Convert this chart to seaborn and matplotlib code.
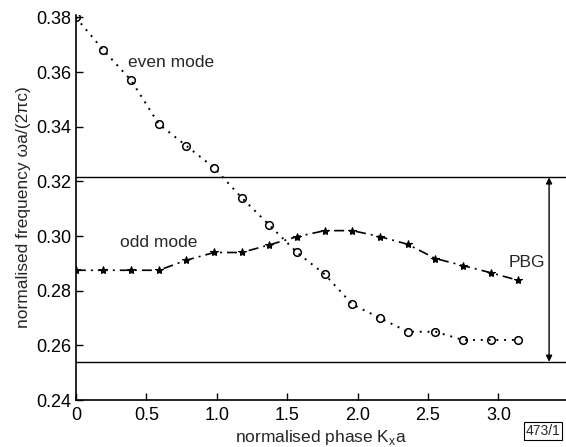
import numpy as np
import pandas as pd
import seaborn as sns
import matplotlib.pyplot as plt

# Data (phase steps of pi/16)
phase = [k * np.pi / 16 for k in range(17)]
even_mode = [0.380, 0.368, 0.357, 0.341, 0.333, 0.325, 0.314, 0.304, 0.294,
             0.286, 0.275, 0.270, 0.265, 0.265, 0.262, 0.262, 0.262]
odd_mode = [0.2875, 0.2875, 0.2875, 0.2875, 0.2912, 0.2940, 0.2940, 0.2968, 0.2998,
            0.3020, 0.3020, 0.2998, 0.2970, 0.2918, 0.2892, 0.2866, 0.2838]
gap_top = 0.3215
gap_bottom = 0.2540

x_ticks = [0, 0.5, 1.0, 1.5, 2.0, 2.5, 3.0]
x_tick_labels = ["0", "0.5", "1.0", "1.5", "2.0", "2.5", "3.0"]
y_ticks = [0.24, 0.26, 0.28, 0.30, 0.32, 0.34, 0.36, 0.38]

df = pd.DataFrame({"phase": phase, "even": even_mode, "odd": odd_mode})

sns.set_style("ticks")
plt.rcParams["font.family"] = ["Liberation Sans", "DejaVu Sans"]
plt.rcParams["font.size"] = 12.5

fig = plt.figure(figsize=(5.66, 4.47), dpi=100)
ax = fig.add_axes([0.134, 0.105, 0.866, 0.862])

sns.lineplot(data=df, x="phase", y="even", ax=ax, color="black",
             linestyle=(0, (1, 3)), linewidth=1.4, marker="o", markersize=5.5,
             markerfacecolor="none", markeredgecolor="black", markeredgewidth=1.1)
sns.lineplot(data=df, x="phase", y="odd", ax=ax, color="black",
             linestyle=(0, (6, 3, 1.2, 3)), linewidth=1.2, marker="*", markersize=6,
             markerfacecolor="black", markeredgecolor="black")

# band gap edges and arrow
ax.axhline(gap_top, color="black", linewidth=1.0)
ax.axhline(gap_bottom, color="black", linewidth=1.0)
ax.annotate("", xy=(3.36, gap_top), xytext=(3.36, gap_bottom),
            arrowprops=dict(arrowstyle="<|-|>", color="black", lw=1.0,
                            mutation_scale=9, shrinkA=0, shrinkB=0))
ax.text(3.33, 0.2905, "PBG", ha="right", va="center", fontsize=12.5)
ax.text(0.37, 0.3635, "even mode", ha="left", va="center", fontsize=12.5)
ax.text(0.31, 0.2975, "odd mode", ha="left", va="center", fontsize=12.5)

ax.set_xlim(0, 3.48)
ax.set_ylim(0.24, 0.381)
ax.set_xticks(x_ticks)
ax.set_xticklabels(x_tick_labels)
ax.set_yticks(y_ticks)
ax.set_yticklabels([f"{v:.2f}" for v in y_ticks])
ax.tick_params(direction="in", length=5, width=1, labelsize=13, colors="black")
ax.tick_params(axis="x", pad=5)
ax.tick_params(axis="y", pad=3)
sns.despine(ax=ax)
for s in ["left", "bottom"]:
    ax.spines[s].set_linewidth(1.2)
    ax.spines[s].set_color("black")

ax.set_xlabel("normalised phase K$_\\mathregular{x}$a", fontsize=12.5, labelpad=3)
ax.set_ylabel("normalised frequency \u03c9a/(2\u03c0c)", fontsize=12.5, labelpad=4)

fig.text(0.99, 0.02, "473/1", ha="right", va="bottom", fontsize=10,
         bbox=dict(boxstyle="square,pad=0.15", facecolor="white", edgecolor="black", lw=0.8))

fig.savefig("out.png", dpi=100)
